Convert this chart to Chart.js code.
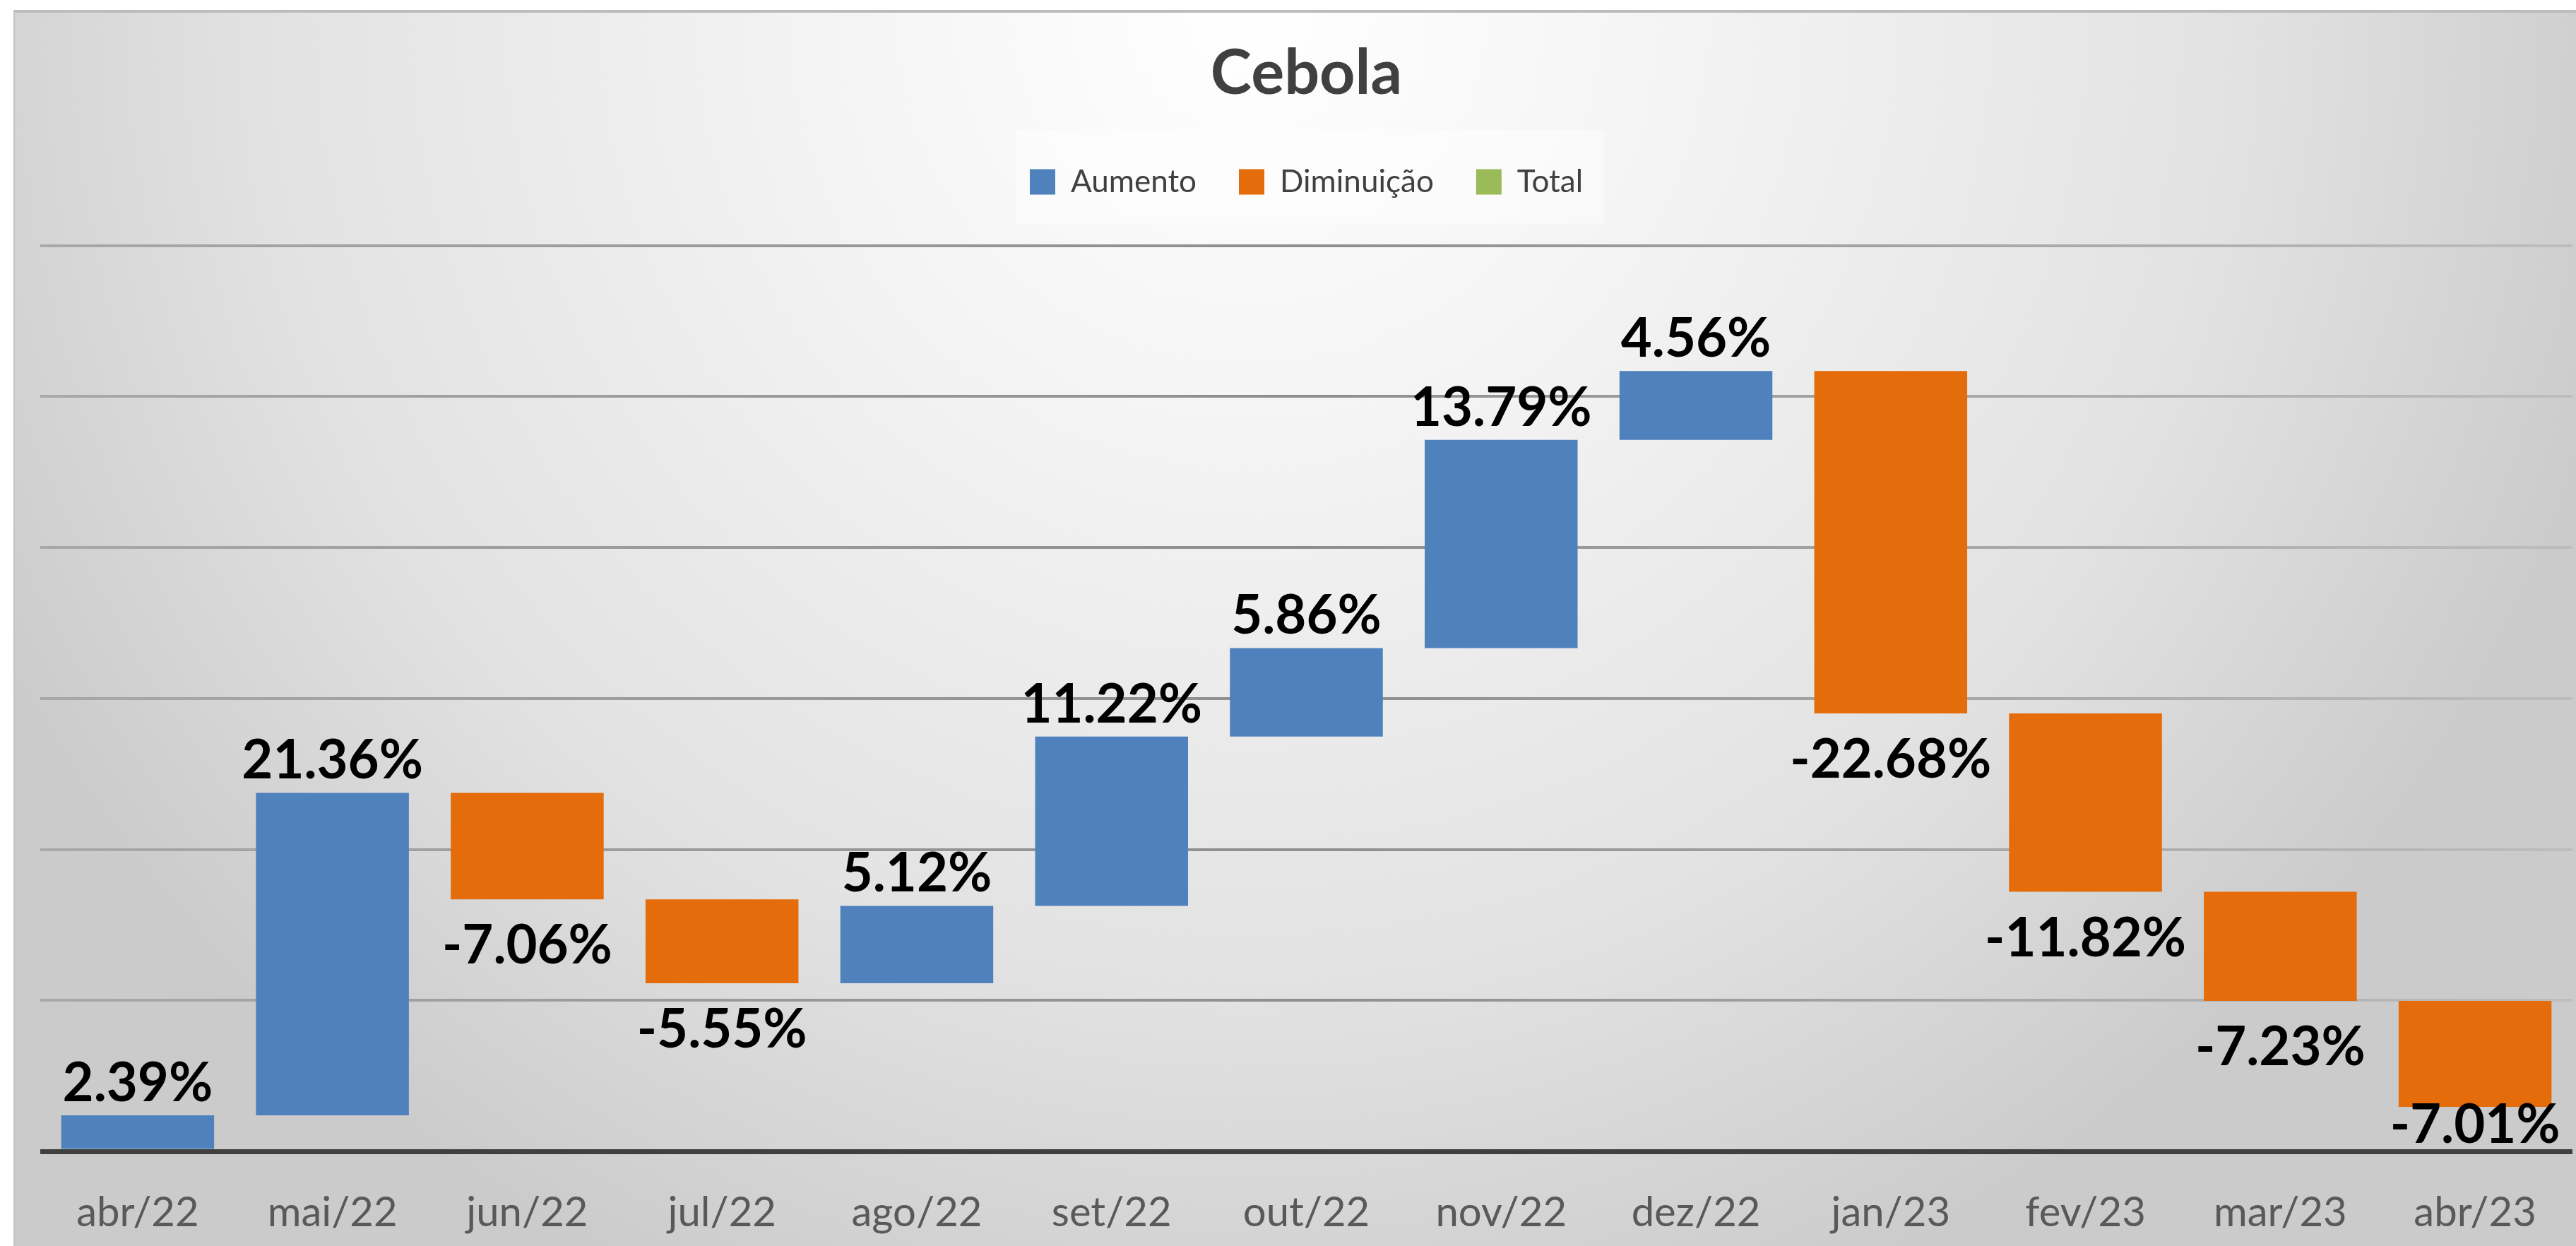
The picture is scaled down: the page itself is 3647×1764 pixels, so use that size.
<!DOCTYPE html>
<html>
<head>
<meta charset="utf-8">
<script src="https://cdn.jsdelivr.net/npm/chart.js@4.4.0/dist/chart.umd.min.js"></script>
<style>
  html, body { margin:0; padding:0; background:#fff; overflow:hidden; width:3647px; height:1764px; }
  #frame {
    position:absolute; left:19px; top:14px; width:3640px; height:1800px;
    border-top:4px solid #bcbcbc; border-left:2px solid #c4c4c4;
    background: radial-gradient(ellipse 55% 110% at 48% 0%, #ffffff 0%, #f4f4f4 30%, #e2e2e2 70%, #cbcbcb 100%);
  }
  #c { position:absolute; left:0; top:0; }
</style>
</head>
<body>
<div id="frame"></div>
<canvas id="c" width="3647" height="1764"></canvas>
<script>
/* ---- data ------------------------------------------------------------ */
const MONTHS  = ["abr/22","mai/22","jun/22","jul/22","ago/22","set/22","out/22",
                 "nov/22","dez/22","jan/23","fev/23","mar/23","abr/23"];
const CHANGES = [2.39, 21.36, -7.06, -5.55, 5.12, 11.22, 5.86,
                 13.79, 4.56, -22.68, -11.82, -7.23, -7.01];
const Y_TICKS = [0, 10, 20, 30, 40, 50, 60];

const UP = "#4F81BD", DOWN = "#E46C0A", TOTAL = "#9BBB59";

// floating [start, end] spans for the waterfall
const spans = [];
let run = 0;
CHANGES.forEach(v => { spans.push([run, run + v]); run += v; });

const upData   = spans.map((s,i) => CHANGES[i] >= 0 ? s : null);
const downData = spans.map((s,i) => CHANGES[i] <  0 ? s : null);
const totData  = MONTHS.map(() => null);

/* ---- plugins --------------------------------------------------------- */
// extra room under the legend, items stay where they are
const legendMargin = {
  id: "legendMargin",
  beforeInit(chart){
    const fit = chart.legend.fit;
    chart.legend.fit = function(){ fit.call(this); this.height += 58; };
  }
};

const legendPanel = {
  id: "legendPanel",
  beforeDraw(chart){
    const hb = chart.legend && chart.legend.legendHitBoxes;
    if(!hb || !hb.length) return;
    const l = Math.min(...hb.map(b=>b.left)), r = Math.max(...hb.map(b=>b.left+b.width));
    const t = Math.min(...hb.map(b=>b.top)),  btm = Math.max(...hb.map(b=>b.top+b.height));
    const ctx = chart.ctx;
    ctx.save();
    ctx.fillStyle = "rgba(255,255,255,0.45)";
    ctx.fillRect(l-19, t-52, (r-l)+49, (btm-t)+89);
    ctx.restore();
  }
};

const valueLabels = {
  id: "valueLabels",
  afterDatasetsDraw(chart){
    const { ctx, chartArea } = chart;
    const xs = chart.scales.x, ys = chart.scales.y;
    ctx.save();
    ctx.font = "bold 76px Lato";
    ctx.fillStyle = "#000";
    ctx.textAlign = "center";
    ctx.textBaseline = "alphabetic";
    CHANGES.forEach((v,i) => {
      const cx = xs.getPixelForValue(i);
      const end = ys.getPixelForValue(spans[i][1]);
      const by = v >= 0 ? end - 20 : Math.min(end + 91, chartArea.bottom - 12);
      ctx.fillText(v.toFixed(2) + "%", cx, by);
    });
    ctx.restore();
  }
};

let gridGrad = null;
function gridColor(c){
  if(c.tick && c.tick.value === 0) return "#404040";
  const ch = c.chart, a = ch.chartArea;
  if(!a) return "#a0a0a0";
  if(!gridGrad){
    gridGrad = ch.ctx.createLinearGradient(a.left, 0, a.right, 0);
    gridGrad.addColorStop(0, "#a8a8a8");
    gridGrad.addColorStop(0.5, "#8e8e8e");
    gridGrad.addColorStop(1, "#bdbdbd");
  }
  return gridGrad;
}

/* ---- chart ----------------------------------------------------------- */
const barOpts = { grouped:false, borderWidth:0, categoryPercentage:1, barPercentage:0.785 };

new Chart(document.getElementById("c"), {
  type: "bar",
  data: {
    labels: MONTHS,
    datasets: [
      Object.assign({ label:"Aumento",    data:upData,   backgroundColor:UP },    barOpts),
      Object.assign({ label:"Diminuição", data:downData, backgroundColor:DOWN },  barOpts),
      Object.assign({ label:"Total",      data:totData,  backgroundColor:TOTAL }, barOpts)
    ]
  },
  options: {
    responsive:false, animation:false, devicePixelRatio:1,
    layout:{ padding:{ left:57, right:5, top:0, bottom:12 } },
    plugins:{
      title:{ display:true, text:"Cebola", color:"#404040",
              font:{ family:"Lato", size:88, weight:"bold" }, padding:{ top:52, bottom:18 } },
      legend:{ position:"top",
               labels:{ boxWidth:36, boxHeight:36, padding:60, color:"#404040",
                        font:{ family:"Lato", size:44 } } },
      tooltip:{ enabled:false }
    },
    scales:{
      x:{ grid:{ display:false, drawTicks:false }, border:{ display:false },
          afterFit: s => { s.height = 122; },
          ticks:{ color:"#595959", font:{ family:"Lato", size:58 }, padding:52, maxRotation:0, autoSkip:false } },
      y:{ min:Y_TICKS[0], max:Y_TICKS[Y_TICKS.length-1],
          afterBuildTicks: s => { s.ticks = Y_TICKS.map(v => ({ value:v })); },
          ticks:{ display:false },
          border:{ display:false },
          grid:{ drawTicks:false, color: gridColor,
                 lineWidth: c => c.tick.value === 0 ? 7 : 4 } }
    }
  },
  plugins:[legendMargin, legendPanel, valueLabels]
});
</script>
</body>
</html>
